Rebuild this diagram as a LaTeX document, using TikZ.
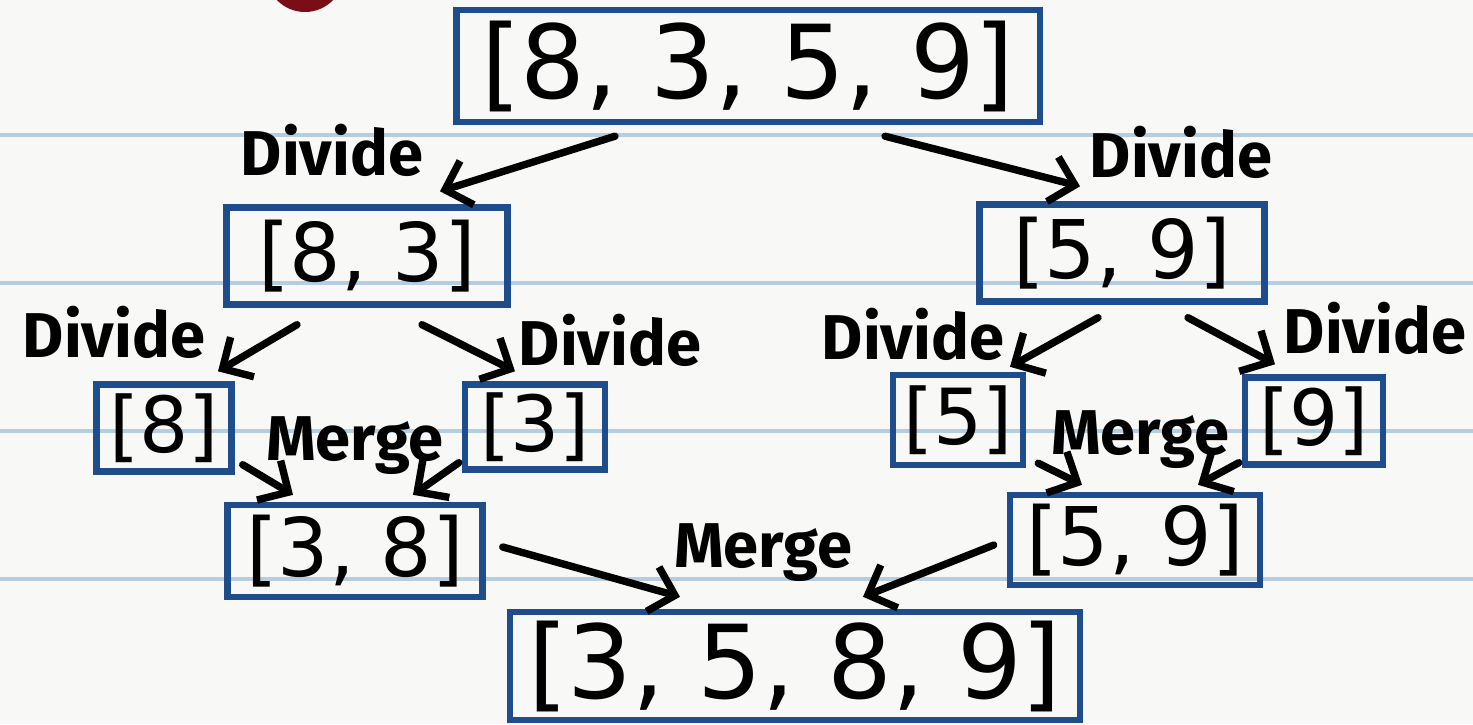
\documentclass[tikz,border=0pt]{standalone}
\usepackage{fontspec}
\setmainfont{DejaVu Sans}
\newfontfamily\labelfont{Fira Sans}
\usetikzlibrary{arrows.meta}
\definecolor{paper}{HTML}{F8F8F6}
\definecolor{ruleblue}{HTML}{B5CDE0}
\definecolor{boxblue}{HTML}{1F4D8C}
\definecolor{dotred}{HTML}{7A0E16}
\tikzset{
  arr/.style={line width=2.1pt,line cap=round,-{Straight Barb[length=2.3mm,width=4.6mm]}},
  arrbox/.style={draw=boxblue,line width=1.8pt,inner sep=0pt},
  bigbox/.style={arrbox,font=\fontsize{29}{32}\selectfont},
  midbox/.style={arrbox,font=\fontsize{23}{26}\selectfont},
  onebox/.style={arrbox,font=\fontsize{22}{25}\selectfont},
  steplabel/.style={inner sep=0pt,font=\labelfont\bfseries\fontsize{18}{20}\selectfont},
}
\begin{document}
\begin{tikzpicture}[x=0.01cm,y=-0.01cm]
  % paper
  \fill[paper] (0,0) rectangle (1473,724);
  \useasboundingbox (0,0) rectangle (1473,724);
  \foreach \y in {135,283,431,579}
    \draw[ruleblue,line width=1pt] (0,\y)--(1473,\y);
  \fill[dotred] (305,-27) circle (39);

  % the lists
  \node[bigbox,minimum width=5.83cm,minimum height=1.12cm](top)at(748,66){[8, 3, 5, 9]};
  \node[midbox,minimum width=2.81cm,minimum height=0.97cm](a83)at(367,256){[8, 3]};
  \node[midbox,minimum width=2.85cm,minimum height=0.97cm](a59)at(1122,253){[5, 9]};
  \node[onebox,minimum width=1.35cm,minimum height=0.87cm](s8)at(164,428){[8]};
  \node[onebox,minimum width=1.40cm,minimum height=0.85cm](s3)at(535,427){[3]};
  \node[onebox,minimum width=1.30cm,minimum height=0.90cm](s5)at(958,420){[5]};
  \node[onebox,minimum width=1.38cm,minimum height=0.87cm](s9)at(1314,421){[9]};
  \node[midbox,minimum width=2.55cm,minimum height=0.92cm](m38)at(355,551){[3, 8]};
  \node[midbox,minimum width=2.50cm,minimum height=0.90cm](m59)at(1135,540){[5, 9]};
  \node[bigbox,minimum width=5.70cm,minimum height=1.08cm](fin)at(795,666){[3, 5, 8, 9]};

  % labels
  \node[steplabel](dTL)at(332,150){Divide};
  \node[steplabel](dTR)at(1181,152){Divide};
  \node[steplabel](dLL)at(114,332){Divide};
  \node[steplabel](dLR)at(610,340){Divide};
  \node[steplabel](dRL)at(913,334){Divide};
  \node[steplabel](dRR)at(1375,328){Divide};
  \node[steplabel](mL)at(355,446){Merge};
  \node[steplabel](mR)at(1140,440){Merge};
  \node[steplabel](mB)at(763,553){Merge};

  % divide
  \draw[arr] ([shift={(-133,11)}]top.south)--([shift={(73,-13)}]a83.north);
  \draw[arr] ([shift={(137,11)}]top.south)--([shift={(-42,-15)}]a59.north);
  \draw[arr] ([shift={(-70,17)}]a83.south)--([shift={(54,-10)}]s8.north);
  \draw[arr] ([shift={(55,17)}]a83.south)--([shift={(-20,-10)}]s3.north);
  \draw[arr] ([shift={(-24,13)}]a59.south)--([shift={(52,-5)}]s5.north);
  \draw[arr] ([shift={(66,13)}]a59.south)--([shift={(-39,-10)}]s9.north);
  % merge
  \draw[arr] ([shift={(8,-10)}]s8.south east)--([shift={(-62,-7)}]m38.north);
  \draw[arr] ([shift={(-3,-10)}]s3.south west)--([shift={(58,-7)}]m38.north);
  \draw[arr] ([shift={(12,-5)}]s5.south east)--([shift={(-53,-7)}]m59.north);
  \draw[arr] ([shift={(-3,-5)}]s9.south west)--([shift={(63,-7)}]m59.north);
  \draw[arr] ([shift={(17,-4)}]m38.east)--([shift={(-115,-12)}]fin.north);
  \draw[arr] ([shift={(-13,5)}]m59.west)--([shift={(68,-12)}]fin.north);
\end{tikzpicture}
\end{document}
